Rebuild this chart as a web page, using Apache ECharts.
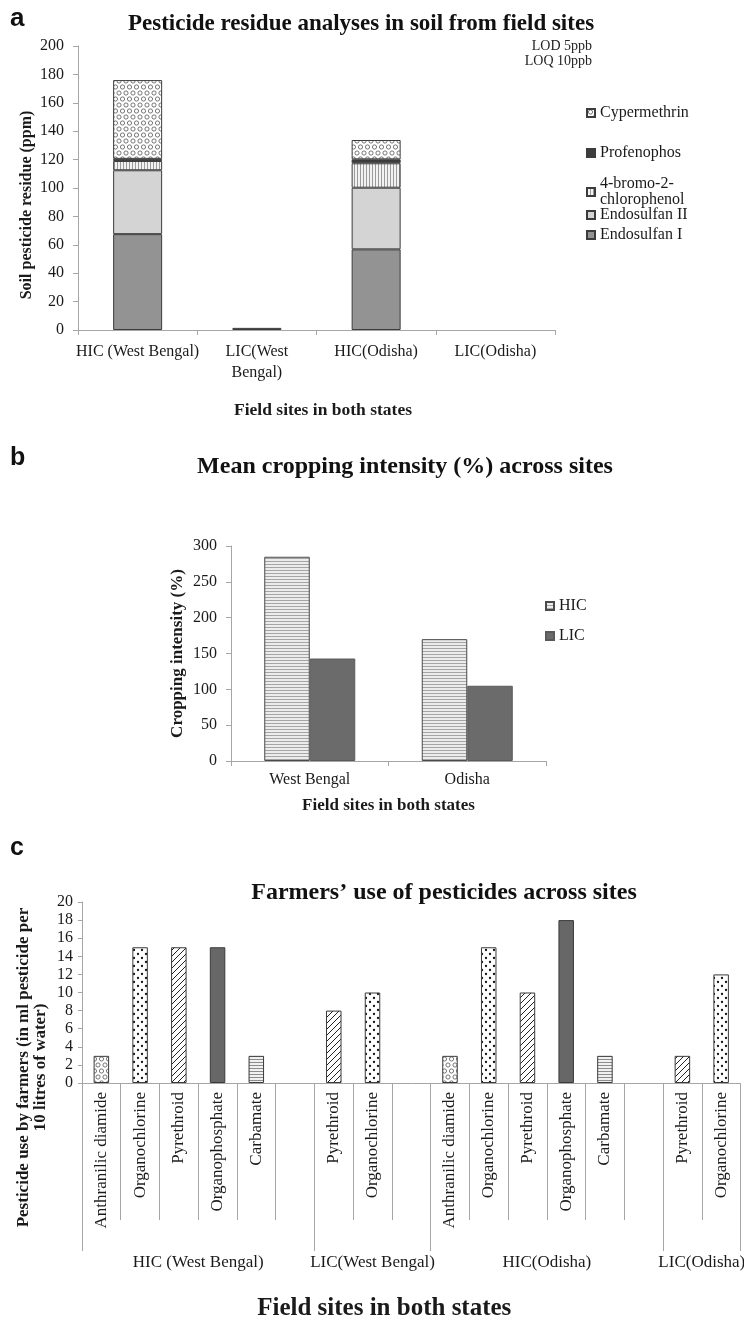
<!DOCTYPE html>
<html><head><meta charset="utf-8">
<script src="https://cdn.jsdelivr.net/npm/echarts@6/dist/echarts.min.js"></script>
<style>html,body{margin:0;padding:0;background:#fff}#chart{width:744px;height:1325px}</style>
</head><body><div id="chart"></div>
<script>
// ---------- Panel a: soil residues ----------
const sitesA = ['HIC (West Bengal)', 'LIC(West Bengal)', 'HIC(Odisha)', 'LIC(Odisha)'];
const endosulfanI = [67.5, 1.5, 56.8, 0];
const endosulfanII = [45, 0, 43.4, 0];
const bromoChlorophenol = [6.5, 0, 17.2, 0];
const profenophos = [1.5, 0, 2.8, 0];
const cypermethrin = [55.5, 0, 13.6, 0];
const yTicksA = {min: 0, max: 200, step: 20};

// ---------- Panel b: cropping intensity ----------
const statesB = ['West Bengal', 'Odisha'];
const hicIntensity = [285, 170];
const licIntensity = [143, 105];
const yTicksB = {min: 0, max: 300, step: 50};

// ---------- Panel c: farmers' pesticide use ----------
const pesticideClasses = ['Anthranilic diamide', 'Organochlorine', 'Pyrethroid', 'Organophosphate', 'Carbamate', '',
  'Pyrethroid', 'Organochlorine', '',
  'Anthranilic diamide', 'Organochlorine', 'Pyrethroid', 'Organophosphate', 'Carbamate', '',
  'Pyrethroid', 'Organochlorine'];
const pesticideUse = [3, 15, 15, 15, 3, null, 8, 10, null, 3, 15, 10, 18, 3, null, 3, 12];
const siteGroups = ['HIC (West Bengal)', 'LIC(West Bengal)', 'HIC(Odisha)', 'LIC(Odisha)'];
const groupSizes = [6, 3, 6, 2];
const yTicksC = {min: 0, max: 20, step: 2};

// ---------- patterns ----------
function pattern(w, h, draw, bg) {
  const c = document.createElement('canvas');
  c.width = w; c.height = h;
  const g = c.getContext('2d');
  g.fillStyle = bg || '#ffffff';
  g.fillRect(0, 0, w, h);
  draw(g);
  return {image: c, repeat: 'repeat'};
}
const circlesPat = pattern(7, 12, g => {
  g.strokeStyle = '#555'; g.lineWidth = 0.8;
  [[3.5, 3], [0, 9], [7, 9]].forEach(p => { g.beginPath(); g.arc(p[0], p[1], 2.1, 0, Math.PI * 2); g.stroke(); });
});
const vLinesPat = pattern(3, 4, g => { g.fillStyle = '#9a9a9a'; g.fillRect(0, 0, 1, 4); }, '#f2f2f2');
const hLinesPat = pattern(4, 3, g => { g.fillStyle = '#a5a5a5'; g.fillRect(0, 0, 4, 1); }, '#ececec');
const carbPat = pattern(4, 3, g => { g.fillStyle = '#8c8c8c'; g.fillRect(0, 0, 4, 1); }, '#f0f0f0');
const dotsPat = pattern(8, 8, g => {
  g.fillStyle = '#111';
  [[2, 2], [6, 6]].forEach(p => { g.beginPath(); g.arc(p[0], p[1], 1.15, 0, Math.PI * 2); g.fill(); });
});
const diagPat = pattern(6, 6, g => {
  g.strokeStyle = '#222'; g.lineWidth = 1;
  [[-1, 7, 7, -1], [-4, 4, 4, -4], [2, 10, 10, 2]].forEach(l => { g.beginPath(); g.moveTo(l[0], l[1]); g.lineTo(l[2], l[3]); g.stroke(); });
});
const classStyle = {
  'Anthranilic diamide': circlesPat,
  'Organochlorine': dotsPat,
  'Pyrethroid': diagPat,
  'Organophosphate': '#676767',
  'Carbamate': carbPat
};

const FONT = 'Liberation Serif';
const TXT = '#1a1a1a';
const AX = '#a6a6a6';
const tstyle = (size, bold) => ({fontFamily: FONT, fontSize: size, color: TXT, fontWeight: bold ? 'bold' : 'normal'});
const axisLine = {show: true, lineStyle: {color: AX, width: 1}};

const cum = [0]; groupSizes.forEach(s => cum.push(cum[cum.length - 1] + s));
const groupCenters = siteGroups.map((_, i) => (cum[i] + cum[i + 1]) / 2);

const zeroToGap = arr => arr.map(v => (v ? v : '-'));
const stackA = (name, arr, color) => ({
  name, type: 'bar', stack: 'a', xAxisIndex: 0, yAxisIndex: 0, barWidth: 49,
  itemStyle: {color, borderColor: '#3c3c3c', borderWidth: 1},
  data: zeroToGap(arr)
});

const legendA = (name, top, fmt) => ({
  data: [name], left: 586, top, orient: 'vertical', padding: 0,
  itemWidth: 8, itemHeight: 8, icon: 'rect', selectedMode: false,
  textStyle: Object.assign(tstyle(16), {lineHeight: 16}),
  formatter: fmt
});

const option = {
  animation: false,
  backgroundColor: '#ffffff',
  graphic: [
    {type: 'text', x: 10, y: 6, style: {text: 'a', font: 'bold 26px "Liberation Sans"', fill: '#111'}},
    {type: 'text', x: 10, y: 446, style: {text: 'b', font: 'bold 25px "Liberation Sans"', fill: '#111'}},
    {type: 'text', x: 10, y: 836, style: {text: 'c', font: 'bold 25px "Liberation Sans"', fill: '#111'}},
    {type: 'text', x: 361, y: 24, style: {text: 'Pesticide residue analyses in soil from field sites', font: 'bold 23px "Liberation Serif"', fill: '#111', align: 'center', verticalAlign: 'middle'}},
    {type: 'text', x: 592, y: 46, style: {text: 'LOD 5ppb', font: '14px "Liberation Serif"', fill: '#222', align: 'right', verticalAlign: 'middle'}},
    {type: 'text', x: 592, y: 61, style: {text: 'LOQ 10ppb', font: '14px "Liberation Serif"', fill: '#222', align: 'right', verticalAlign: 'middle'}},
    {type: 'text', x: 405, y: 467, style: {text: 'Mean cropping intensity (%) across sites', font: 'bold 24px "Liberation Serif"', fill: '#111', align: 'center', verticalAlign: 'middle'}},
    {type: 'text', x: 444, y: 893, style: {text: 'Farmers’ use of pesticides across sites', font: 'bold 24px "Liberation Serif"', fill: '#111', align: 'center', verticalAlign: 'middle'}}
  ],
  legend: [
    legendA('Cypermethrin', 105),
    legendA('Profenophos', 145),
    legendA('4-bromo-2-chlorophenol', 176, () => '4-bromo-2-\nchlorophenol'),
    legendA('Endosulfan II', 207),
    legendA('Endosulfan I', 227),
    {data: ['HIC', 'LIC'], left: 545, top: 598, orient: 'vertical', padding: 0, itemGap: 14,
      itemWidth: 8, itemHeight: 8, icon: 'rect', selectedMode: false, textStyle: tstyle(16)}
  ],
  grid: [
    {left: 78, top: 46, width: 477, height: 284, outerBoundsMode: 'none'},
    {left: 231, top: 546, width: 315, height: 215, outerBoundsMode: 'none'},
    {left: 82, top: 902, width: 658.5, height: 181, outerBoundsMode: 'none'}
  ],
  xAxis: [
    {type: 'category', gridIndex: 0, data: sitesA, axisLine,
      axisTick: {show: true, length: 5, lineStyle: {color: AX}},
      axisLabel: Object.assign(tstyle(16), {interval: 0, margin: 11, lineHeight: 21,
        formatter: v => v === 'LIC(West Bengal)' ? 'LIC(West\nBengal)' : v}),
      name: 'Field sites in both states', nameLocation: 'middle', nameGap: 71, nameMoveOverlap: false,
      nameTextStyle: Object.assign(tstyle(17.5, true), {padding: [0, 0, 0, 13]})},
    {type: 'category', gridIndex: 1, data: statesB, axisLine,
      axisTick: {show: true, length: 5, lineStyle: {color: AX}},
      axisLabel: Object.assign(tstyle(16), {margin: 11}),
      name: 'Field sites in both states', nameLocation: 'middle', nameGap: 36, nameMoveOverlap: false,
      nameTextStyle: tstyle(17, true)},
    {type: 'category', gridIndex: 2, data: pesticideClasses, axisLine, position: 'bottom',
      axisTick: {show: true, interval: 0, length: 137, lineStyle: {color: AX}},
      axisLabel: Object.assign(tstyle(17), {interval: 0, rotate: 90, margin: 9})},
    {type: 'value', gridIndex: 2, min: 0, max: cum[cum.length - 1], position: 'bottom',
      axisLine: {show: false}, splitLine: {show: false},
      axisTick: {show: true, customValues: cum, length: 168, lineStyle: {color: AX}},
      axisLabel: Object.assign(tstyle(17), {customValues: groupCenters, margin: 171,
        formatter: v => siteGroups[groupCenters.indexOf(v)]}),
      name: 'Field sites in both states', nameLocation: 'middle', nameGap: 213, nameMoveOverlap: false,
      nameTextStyle: Object.assign(tstyle(25, true), {padding: [0, 54, 0, 0]})}
  ],
  yAxis: [
    {type: 'value', gridIndex: 0, min: yTicksA.min, max: yTicksA.max, interval: yTicksA.step,
      axisLine, splitLine: {show: false},
      axisTick: {show: true, length: 5, lineStyle: {color: AX}},
      axisLabel: Object.assign(tstyle(16), {margin: 14}),
      name: 'Soil pesticide residue (ppm)', nameLocation: 'middle', nameGap: 43, nameMoveOverlap: false,
      nameTextStyle: Object.assign(tstyle(16, true), {padding: [0, 34, 0, 0]})},
    {type: 'value', gridIndex: 1, min: yTicksB.min, max: yTicksB.max, interval: yTicksB.step,
      axisLine, splitLine: {show: false},
      axisTick: {show: true, length: 5, lineStyle: {color: AX}},
      axisLabel: Object.assign(tstyle(16), {margin: 14}),
      name: 'Cropping intensity (%)', nameLocation: 'middle', nameGap: 45, nameMoveOverlap: false,
      nameTextStyle: tstyle(17, true)},
    {type: 'value', gridIndex: 2, min: yTicksC.min, max: yTicksC.max, interval: yTicksC.step,
      axisLine, splitLine: {show: false},
      axisTick: {show: true, length: 4, lineStyle: {color: AX}},
      axisLabel: Object.assign(tstyle(16), {margin: 9}),
      name: 'Pesticide use by farmers (in ml pesticide per\n10 litres of water)', nameLocation: 'middle', nameGap: 33, nameMoveOverlap: false,
      nameTextStyle: Object.assign(tstyle(17, true), {lineHeight: 17, padding: [0, 150, 0, 0]})}
  ],
  series: [
    stackA('Endosulfan I', endosulfanI, '#939393'),
    stackA('Endosulfan II', endosulfanII, '#d4d4d4'),
    stackA('4-bromo-2-chlorophenol', bromoChlorophenol, vLinesPat),
    stackA('Profenophos', profenophos, '#3d3d3d'),
    stackA('Cypermethrin', cypermethrin, circlesPat),
    {name: 'HIC', type: 'bar', xAxisIndex: 1, yAxisIndex: 1, barWidth: 45.5, barGap: '0%',
      itemStyle: {color: hLinesPat, borderColor: '#4a4a4a', borderWidth: 1}, data: hicIntensity},
    {name: 'LIC', type: 'bar', xAxisIndex: 1, yAxisIndex: 1, barWidth: 45.5, barGap: '0%',
      itemStyle: {color: '#6b6b6b', borderColor: '#5a5a5a', borderWidth: 1}, data: licIntensity},
    {name: 'Pesticide use', type: 'bar', xAxisIndex: 2, yAxisIndex: 2, barWidth: 15.5,
      itemStyle: {borderColor: '#3a3a3a', borderWidth: 1},
      data: pesticideUse.map((v, i) => v == null ? '-' : {value: v, itemStyle: {color: classStyle[pesticideClasses[i]]}})}
  ]
};
const chart = echarts.init(document.getElementById('chart'), null, {renderer: 'canvas'});
chart.setOption(option);
</script>
</body></html>
